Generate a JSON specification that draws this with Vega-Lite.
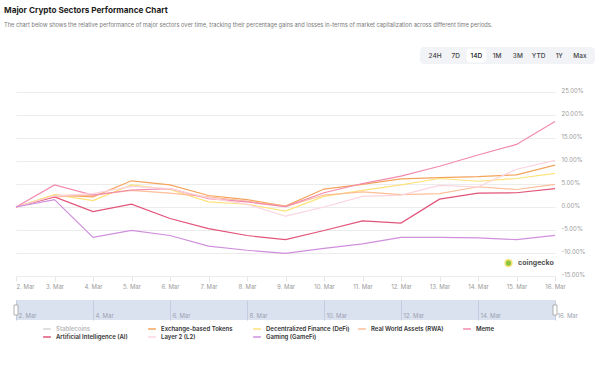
{
  "$schema": "https://vega.github.io/schema/vega-lite/v6.json",
  "background": "white",
  "padding": {"left": 4, "top": 6, "right": 5, "bottom": 5},
  "config": {
    "font": "Inter",
    "view": {"stroke": null},
    "axis": {"labelFont": "Inter"},
    "axisY": {"labelOverlap": false, "labelSeparation": 0},
    "axisQuantitative": {"labelOverlap": false},
    "legend": {"labelFont": "Inter"}
  },
  "title": {
    "text": "Major Crypto Sectors Performance Chart",
    "subtitle": "The chart below shows the relative performance of major sectors over time, tracking their percentage gains and losses in-terms of market capitalization across different time periods.",
    "anchor": "start",
    "fontSize": 8.2,
    "fontWeight": 700,
    "color": "#1c1c1c",
    "subtitleFontSize": 5.7,
    "subtitleColor": "#7a7a7a",
    "subtitlePadding": 7,
    "offset": 18
  },
  "datasets": {
    "perf": [
      {"date": "2025/03/02", "sector": "Exchange-based Tokens", "pct": 0},
      {"date": "2025/03/03", "sector": "Exchange-based Tokens", "pct": 2.6},
      {"date": "2025/03/04", "sector": "Exchange-based Tokens", "pct": 2.2},
      {"date": "2025/03/05", "sector": "Exchange-based Tokens", "pct": 5.7},
      {"date": "2025/03/06", "sector": "Exchange-based Tokens", "pct": 4.8},
      {"date": "2025/03/07", "sector": "Exchange-based Tokens", "pct": 2.5},
      {"date": "2025/03/08", "sector": "Exchange-based Tokens", "pct": 1.6},
      {"date": "2025/03/09", "sector": "Exchange-based Tokens", "pct": 0.2},
      {"date": "2025/03/10", "sector": "Exchange-based Tokens", "pct": 3.9},
      {"date": "2025/03/11", "sector": "Exchange-based Tokens", "pct": 4.9},
      {"date": "2025/03/12", "sector": "Exchange-based Tokens", "pct": 6.1},
      {"date": "2025/03/13", "sector": "Exchange-based Tokens", "pct": 6.4},
      {"date": "2025/03/14", "sector": "Exchange-based Tokens", "pct": 6.6},
      {"date": "2025/03/15", "sector": "Exchange-based Tokens", "pct": 7.0},
      {"date": "2025/03/16", "sector": "Exchange-based Tokens", "pct": 9.1},

      {"date": "2025/03/02", "sector": "Decentralized Finance (DeFi)", "pct": 0},
      {"date": "2025/03/03", "sector": "Decentralized Finance (DeFi)", "pct": 2.7},
      {"date": "2025/03/04", "sector": "Decentralized Finance (DeFi)", "pct": 1.4},
      {"date": "2025/03/05", "sector": "Decentralized Finance (DeFi)", "pct": 4.8},
      {"date": "2025/03/06", "sector": "Decentralized Finance (DeFi)", "pct": 3.8},
      {"date": "2025/03/07", "sector": "Decentralized Finance (DeFi)", "pct": 1.1},
      {"date": "2025/03/08", "sector": "Decentralized Finance (DeFi)", "pct": 0.6},
      {"date": "2025/03/09", "sector": "Decentralized Finance (DeFi)", "pct": -0.9},
      {"date": "2025/03/10", "sector": "Decentralized Finance (DeFi)", "pct": 2.3},
      {"date": "2025/03/11", "sector": "Decentralized Finance (DeFi)", "pct": 3.6},
      {"date": "2025/03/12", "sector": "Decentralized Finance (DeFi)", "pct": 4.8},
      {"date": "2025/03/13", "sector": "Decentralized Finance (DeFi)", "pct": 6.2},
      {"date": "2025/03/14", "sector": "Decentralized Finance (DeFi)", "pct": 5.6},
      {"date": "2025/03/15", "sector": "Decentralized Finance (DeFi)", "pct": 6.2},
      {"date": "2025/03/16", "sector": "Decentralized Finance (DeFi)", "pct": 7.3},

      {"date": "2025/03/02", "sector": "Real World Assets (RWA)", "pct": 0},
      {"date": "2025/03/03", "sector": "Real World Assets (RWA)", "pct": 2.2},
      {"date": "2025/03/04", "sector": "Real World Assets (RWA)", "pct": 2.6},
      {"date": "2025/03/05", "sector": "Real World Assets (RWA)", "pct": 3.6},
      {"date": "2025/03/06", "sector": "Real World Assets (RWA)", "pct": 3.0},
      {"date": "2025/03/07", "sector": "Real World Assets (RWA)", "pct": 2.2},
      {"date": "2025/03/08", "sector": "Real World Assets (RWA)", "pct": 1.3},
      {"date": "2025/03/09", "sector": "Real World Assets (RWA)", "pct": 0.1},
      {"date": "2025/03/10", "sector": "Real World Assets (RWA)", "pct": 2.6},
      {"date": "2025/03/11", "sector": "Real World Assets (RWA)", "pct": 3.3},
      {"date": "2025/03/12", "sector": "Real World Assets (RWA)", "pct": 2.7},
      {"date": "2025/03/13", "sector": "Real World Assets (RWA)", "pct": 2.9},
      {"date": "2025/03/14", "sector": "Real World Assets (RWA)", "pct": 4.4},
      {"date": "2025/03/15", "sector": "Real World Assets (RWA)", "pct": 3.8},
      {"date": "2025/03/16", "sector": "Real World Assets (RWA)", "pct": 4.9},

      {"date": "2025/03/02", "sector": "Meme", "pct": 0},
      {"date": "2025/03/03", "sector": "Meme", "pct": 4.8},
      {"date": "2025/03/04", "sector": "Meme", "pct": 2.6},
      {"date": "2025/03/05", "sector": "Meme", "pct": 3.7},
      {"date": "2025/03/06", "sector": "Meme", "pct": 4.0},
      {"date": "2025/03/07", "sector": "Meme", "pct": 1.8},
      {"date": "2025/03/08", "sector": "Meme", "pct": 1.1},
      {"date": "2025/03/09", "sector": "Meme", "pct": 0.1},
      {"date": "2025/03/10", "sector": "Meme", "pct": 3.1},
      {"date": "2025/03/11", "sector": "Meme", "pct": 5.1},
      {"date": "2025/03/12", "sector": "Meme", "pct": 6.7},
      {"date": "2025/03/13", "sector": "Meme", "pct": 8.85},
      {"date": "2025/03/14", "sector": "Meme", "pct": 11.3},
      {"date": "2025/03/15", "sector": "Meme", "pct": 13.6},
      {"date": "2025/03/16", "sector": "Meme", "pct": 18.6},

      {"date": "2025/03/02", "sector": "Artificial Intelligence (AI)", "pct": 0},
      {"date": "2025/03/03", "sector": "Artificial Intelligence (AI)", "pct": 2.2},
      {"date": "2025/03/04", "sector": "Artificial Intelligence (AI)", "pct": -1.0},
      {"date": "2025/03/05", "sector": "Artificial Intelligence (AI)", "pct": 0.6},
      {"date": "2025/03/06", "sector": "Artificial Intelligence (AI)", "pct": -2.5},
      {"date": "2025/03/07", "sector": "Artificial Intelligence (AI)", "pct": -4.7},
      {"date": "2025/03/08", "sector": "Artificial Intelligence (AI)", "pct": -6.2},
      {"date": "2025/03/09", "sector": "Artificial Intelligence (AI)", "pct": -7.1},
      {"date": "2025/03/10", "sector": "Artificial Intelligence (AI)", "pct": -5.1},
      {"date": "2025/03/11", "sector": "Artificial Intelligence (AI)", "pct": -3.0},
      {"date": "2025/03/12", "sector": "Artificial Intelligence (AI)", "pct": -3.5},
      {"date": "2025/03/13", "sector": "Artificial Intelligence (AI)", "pct": 1.7},
      {"date": "2025/03/14", "sector": "Artificial Intelligence (AI)", "pct": 3.0},
      {"date": "2025/03/15", "sector": "Artificial Intelligence (AI)", "pct": 3.1},
      {"date": "2025/03/16", "sector": "Artificial Intelligence (AI)", "pct": 4.0},

      {"date": "2025/03/02", "sector": "Layer 2 (L2)", "pct": 0},
      {"date": "2025/03/03", "sector": "Layer 2 (L2)", "pct": 2.4},
      {"date": "2025/03/04", "sector": "Layer 2 (L2)", "pct": 2.9},
      {"date": "2025/03/05", "sector": "Layer 2 (L2)", "pct": 4.5},
      {"date": "2025/03/06", "sector": "Layer 2 (L2)", "pct": 4.0},
      {"date": "2025/03/07", "sector": "Layer 2 (L2)", "pct": 2.0},
      {"date": "2025/03/08", "sector": "Layer 2 (L2)", "pct": 0.6},
      {"date": "2025/03/09", "sector": "Layer 2 (L2)", "pct": -2.0},
      {"date": "2025/03/10", "sector": "Layer 2 (L2)", "pct": 0.0},
      {"date": "2025/03/11", "sector": "Layer 2 (L2)", "pct": 2.3},
      {"date": "2025/03/12", "sector": "Layer 2 (L2)", "pct": 2.6},
      {"date": "2025/03/13", "sector": "Layer 2 (L2)", "pct": 4.7},
      {"date": "2025/03/14", "sector": "Layer 2 (L2)", "pct": 4.35},
      {"date": "2025/03/15", "sector": "Layer 2 (L2)", "pct": 8.2},
      {"date": "2025/03/16", "sector": "Layer 2 (L2)", "pct": 10.15},

      {"date": "2025/03/02", "sector": "Gaming (GameFi)", "pct": 0},
      {"date": "2025/03/03", "sector": "Gaming (GameFi)", "pct": 1.6},
      {"date": "2025/03/04", "sector": "Gaming (GameFi)", "pct": -6.6},
      {"date": "2025/03/05", "sector": "Gaming (GameFi)", "pct": -5.1},
      {"date": "2025/03/06", "sector": "Gaming (GameFi)", "pct": -6.2},
      {"date": "2025/03/07", "sector": "Gaming (GameFi)", "pct": -8.5},
      {"date": "2025/03/08", "sector": "Gaming (GameFi)", "pct": -9.4},
      {"date": "2025/03/09", "sector": "Gaming (GameFi)", "pct": -10.1},
      {"date": "2025/03/10", "sector": "Gaming (GameFi)", "pct": -9.0},
      {"date": "2025/03/11", "sector": "Gaming (GameFi)", "pct": -8.0},
      {"date": "2025/03/12", "sector": "Gaming (GameFi)", "pct": -6.6},
      {"date": "2025/03/13", "sector": "Gaming (GameFi)", "pct": -6.6},
      {"date": "2025/03/14", "sector": "Gaming (GameFi)", "pct": -6.7},
      {"date": "2025/03/15", "sector": "Gaming (GameFi)", "pct": -7.1},
      {"date": "2025/03/16", "sector": "Gaming (GameFi)", "pct": -6.15}
    ],
    "buttons": [
      {"label": "24H", "active": false},
      {"label": "7D", "active": false},
      {"label": "14D", "active": true},
      {"label": "1M", "active": false},
      {"label": "3M", "active": false},
      {"label": "YTD", "active": false},
      {"label": "1Y", "active": false},
      {"label": "Max", "active": false}
    ],
    "handles": [
      {"date": "2025/03/02", "pos": 5},
      {"date": "2025/03/16", "pos": 5}
    ],
    "brand": [
      {"brand": "coingecko", "logoDate": "2025/03/14 19:00", "textDate": "2025/03/15 01:00", "pos": -12.2}
    ]
  },
  "hconcat": [
    {
      "width": 12,
      "height": 1,
      "data": {"values": []},
      "mark": "text"
    },
    {
      "vconcat": [
        {
          "hconcat": [
            {
              "width": 404,
              "height": 17,
              "data": {"values": []},
              "mark": "text"
            },
            {
              "width": 175,
              "height": 17,
              "view": {"fill": "#f1f3f7", "cornerRadius": 4, "stroke": null},
              "data": {"name": "buttons"},
              "encoding": {
                "x": {
                  "field": "label",
                  "type": "nominal",
                  "sort": null,
                  "scale": {"domain": ["24H", "7D", "14D", "1M", "3M", "YTD", "1Y", "Max"], "paddingOuter": 0.25, "paddingInner": 0.05},
                  "axis": null
                },
                "y": {"datum": "b", "type": "nominal", "scale": {"paddingOuter": 0.12, "paddingInner": 0}, "axis": null}
              },
              "layer": [
                {
                  "transform": [{"filter": "datum.active"}],
                  "mark": {"type": "bar", "color": "white", "cornerRadius": 3}
                },
                {
                  "mark": {"type": "text", "fontSize": 6.5, "fontWeight": 500},
                  "encoding": {
                    "text": {"field": "label"},
                    "color": {"condition": {"test": "datum.active", "value": "#111"}, "value": "#444"}
                  }
                }
              ]
            }
          ],
          "spacing": 0,
          "bounds": "flush"
        },
        {
          "vconcat": [
            {
              "width": 539,
              "height": 184,
              "encoding": {
                "x": {
                  "field": "date",
                  "type": "temporal",
                  "scale": {"domain": [{"year": 2025, "month": 3, "date": 2}, {"year": 2025, "month": 3, "date": 16}]},
                  "axis": {
                    "title": null,
                    "format": "%-d. %b",
                    "tickCount": {"interval": "day", "step": 1},
                    "labelFontSize": 6,
                    "labelColor": "#9a9a9a",
                    "tickColor": "#e6e6e6",
                    "tickSize": 5,
                    "domain": false,
                    "grid": false,
                    "labelPadding": 2,
                    "labelFlush": false,
                    "labelOverlap": false,
                    "labelAlign": {"condition": {"test": "datum.index === 0", "value": "left"}, "value": "center"}
                  }
                },
                "y": {
                  "field": "pct",
                  "type": "quantitative",
                  "scale": {"domain": [-15, 25], "nice": false, "zero": false},
                  "axis": {
                    "orient": "right",
                    "title": null,
                    "values": [-15, -10, -5, 0, 5, 10, 15, 20, 25],
                    "labelExpr": "replace(format(datum.value, '.2f'), '\u2212', '-') + '%'",
                    "labelFontSize": 6,
                    "labelColor": "#9a9a9a",
                    "labelOverlap": false,
                    "labelSeparation": 0,
                    "labelBaseline": "alphabetic",
                    "ticks": false,
                    "domain": false,
                    "gridColor": "#ececec",
                    "labelPadding": 6
                  }
                }
              },
              "layer": [
                {
                  "data": {"name": "perf"},
                  "mark": {"type": "line", "strokeWidth": 1.2},
                  "encoding": {
                    "color": {
                      "field": "sector",
                      "type": "nominal",
                      "scale": {
                        "domain": ["Stablecoins", "Exchange-based Tokens", "Decentralized Finance (DeFi)", "Real World Assets (RWA)", "Meme", "Artificial Intelligence (AI)", "Layer 2 (L2)", "Gaming (GameFi)"],
                        "range": ["#d6d6d6", "#f4a35c", "#fde27a", "#fdbe98", "#f28aad", "#e2537a", "#fcd4de", "#cf8fdc"]
                      },
                      "legend": {
                        "title": null,
                        "orient": "none",
                        "legendX": 38,
                        "legendY": 277,
                        "direction": "horizontal",
                        "columns": 5,
                        "gridAlign": "all",
                        "symbolType": "stroke",
                        "symbolStrokeWidth": 1.5,
                        "symbolSize": 60,
                        "labelFontSize": 6,
                        "labelFontWeight": 600,
                        "labelColor": "#333",
                        "labelOffset": 4,
                        "columnPadding": 5,
                        "rowPadding": 0,
                        "padding": 0,
                        "labelLimit": 200,
                        "encode": {"labels": {"update": {"fill": {"signal": "datum.value === 'Stablecoins' ? '#b8b8b8' : '#333333'"}}}}
                      }
                    }
                  }
                },
                {
                  "data": {"name": "brand"},
                  "mark": {"type": "point", "filled": true, "size": 45, "color": "#8cc63f", "stroke": "#f5e27a", "strokeWidth": 1.5, "opacity": 1},
                  "encoding": {
                    "x": {"field": "logoDate", "type": "temporal"},
                    "y": {"field": "pos", "type": "quantitative"}
                  }
                },
                {
                  "data": {"name": "brand"},
                  "mark": {"type": "text", "fontSize": 7, "fontWeight": 700, "color": "#555", "align": "left", "baseline": "middle"},
                  "encoding": {
                    "x": {"field": "textDate", "type": "temporal"},
                    "y": {"field": "pos", "type": "quantitative"},
                    "text": {"field": "brand"}
                  }
                }
              ]
            },
            {
              "width": 539,
              "height": 20,
              "view": {"fill": "#dae1ef", "stroke": null},
              "layer": [
                {
                  "data": {"name": "perf"},
                  "mark": {"type": "line", "opacity": 0},
                  "encoding": {
                    "x": {
                      "field": "date",
                      "type": "temporal",
                      "scale": {"domain": [{"year": 2025, "month": 3, "date": 2}, {"year": 2025, "month": 3, "date": 16}]},
                      "axis": {
                        "title": null,
                        "format": "%-d. %b",
                        "values": [
                          {"year": 2025, "month": 3, "date": 2},
                          {"year": 2025, "month": 3, "date": 4},
                          {"year": 2025, "month": 3, "date": 6},
                          {"year": 2025, "month": 3, "date": 8},
                          {"year": 2025, "month": 3, "date": 10},
                          {"year": 2025, "month": 3, "date": 12},
                          {"year": 2025, "month": 3, "date": 14},
                          {"year": 2025, "month": 3, "date": 16}
                        ],
                        "grid": true,
                        "gridColor": "#c4cce0",
                        "ticks": false,
                        "tickSize": 0,
                        "domain": false,
                        "labelAlign": "left",
                        "labelBaseline": "bottom",
                        "labelPadding": -2,
                        "labelOffset": 2,
                        "labelFontSize": 6,
                        "labelColor": "#9aa1b0",
                        "labelFlush": false,
                        "labelOverlap": false
                      }
                    },
                    "y": {"field": "pct", "type": "quantitative", "axis": null, "scale": {"domain": [-15, 25], "nice": false}},
                    "detail": {"field": "sector"}
                  }
                },
                {
                  "data": {"name": "handles"},
                  "mark": {"type": "point", "shape": "M-0.4,-1H0.4V1H-0.4Z", "size": 100, "filled": true, "fill": "white", "stroke": "#a0a0a0", "strokeWidth": 0.8, "opacity": 1},
                  "encoding": {
                    "x": {"field": "date", "type": "temporal"},
                    "y": {"field": "pos", "type": "quantitative"}
                  }
                }
              ]
            }
          ],
          "spacing": 24,
          "bounds": "flush"
        }
      ],
      "spacing": 23,
      "bounds": "full"
    }
  ],
  "spacing": 0,
  "bounds": "flush"
}
